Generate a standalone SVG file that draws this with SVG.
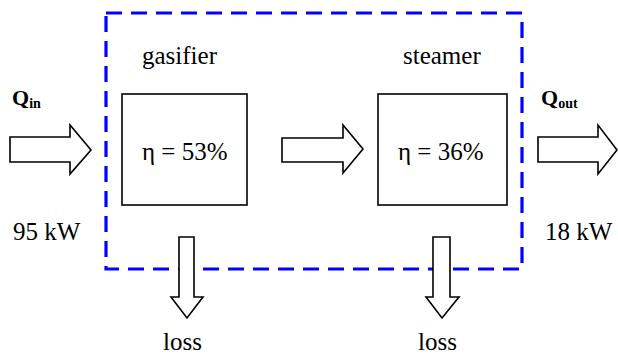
<svg xmlns="http://www.w3.org/2000/svg" width="618" height="356" viewBox="0 0 618 356">
<style>
.t{font-family:"Liberation Serif","Times New Roman",serif;font-size:25px;fill:#000}
.q{font-family:"Liberation Serif","Times New Roman",serif;font-weight:bold;font-size:22px;fill:#000}
.box{fill:#fff;stroke:#000;stroke-width:1.6}
.arr{fill:#fff;stroke:#000;stroke-width:1.6;stroke-linejoin:miter}
</style>
<rect width="618" height="356" fill="#fff"/>
<g id="boundary">
<rect x="106" y="13" width="416" height="256" fill="none" stroke="#0000FF" stroke-width="3.2" stroke-dasharray="16,9"/>
</g>
<g id="connectors">
<polygon class="arr" points="10,137 70,137 70,125 91,150 70,174 70,162 10,162"/>
<polygon class="arr" points="282,138 343,138 343,125 363,149 343,173 343,162 282,162"/>
<polygon class="arr" points="538,137 598,137 598,125 617,150 598,174 598,162 538,162"/>
<polygon class="arr" points="179,237 194,237 194,297 203,297 187,318 171,297 179,297"/>
<polygon class="arr" points="433,237 450,237 450,297 459,297 442,318 426,297 433,297"/>
</g>
<g id="node-gasifier">
<text class="t" x="142" y="64">gasifier</text>
<rect class="box" x="122" y="94" width="125" height="111"/>
<text class="t" x="142" y="160">η = 53%</text>
</g>
<g id="node-steamer">
<text class="t" x="403" y="64">steamer</text>
<rect class="box" x="378" y="94" width="129" height="111"/>
<text class="t" x="398" y="160">η = 36%</text>
</g>
<g id="qin">
<text class="q" x="12" y="105">Q<tspan font-size="14" dy="3">in</tspan></text>
<text class="t" x="13" y="240">95 kW</text>
</g>
<g id="qout">
<text class="q" x="541" y="105">Q<tspan font-size="14" dy="3">out</tspan></text>
<text class="t" x="545" y="240">18 kW</text>
</g>
<g id="loss1"><text class="t" x="163" y="350">loss</text></g>
<g id="loss2"><text class="t" x="418" y="350">loss</text></g>
</svg>
